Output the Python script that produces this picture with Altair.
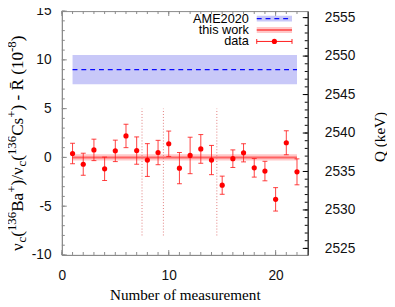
import altair as alt
import pandas as pd

# ---------------- data ----------------
meas = list(range(1, 23))
vals = [0.4, -0.7, 0.77, -1.17, 0.67, 2.2, 0.7, -0.27, 0.5, 1.4, -1.1, 0.2,
        0.87, -0.27, -2.85, -0.13, 0.47, -1.07, -1.4, -4.3, 1.5, -1.48]
errs = [1.05, 1.13, 1.1, 1.2, 1.1, 1.2, 1.4, 1.68, 1.25, 1.3, 1.6, 1.87,
        1.47, 1.5, 0.93, 0.9, 0.93, 0.95, 1.0, 1.2, 1.23, 1.33]

ame_center, ame_lo, ame_hi = 9.0, 7.5, 10.5
tw_center, tw_lo, tw_hi = 0.0, -0.33, 0.33
band_x = [1, 22]
vline_x = [7.5, 9.5, 14.5]
vline_y = [-8, 5]

x_domain = [0, 23]
y_domain = [-10, 15]
q_domain = [2524.15, 2555.85]

x_labels = [0, 10, 20]
y_labels = [-10, -5, 0, 5, 10, 15]
q_labels = [2525, 2530, 2535, 2540, 2545, 2550, 2555]
x_minor = list(range(0, 24))
y_minor = list(range(-10, 16))
q_minor = list(range(2525, 2556))

legend_labels = ["AME2020", "this work", "data"]

# ---------------- layout constants ----------------
W, H = 251, 249
SANS = "Liberation Sans"
SERIF = "Liberation Serif"
GRAY = "#888888"

df = pd.DataFrame({"n": meas, "v": vals,
                   "lo": [v - e for v, e in zip(vals, errs)],
                   "hi": [v + e for v, e in zip(vals, errs)]})
one = pd.DataFrame({"a": [0]})

xscale = alt.Scale(domain=x_domain, nice=False, zero=False)
yscale = alt.Scale(domain=y_domain, nice=False, zero=False)
qscale = alt.Scale(domain=q_domain, nice=False, zero=False)

xaxis = alt.Axis(values=x_labels, ticks=False, tickSize=0, grid=False,
                 domainColor=GRAY, labelFlush=False, labelPadding=14,
                 labelFont=SANS, labelFontSize=14, labelColor="#111",
                 labelExpr="'' + datum.value",
                 title="Number of measurement", titleFont=SERIF,
                 titleFontSize=15.5, titleFontWeight="normal", titleColor="#000",
                 titleX=W / 2, titleY=46, titleAlign="center",
                 titleBaseline="alphabetic")
yaxis = alt.Axis(values=y_labels, ticks=False, tickSize=0, grid=False,
                 domainColor=GRAY, labelPadding=11, labelFont=SANS,
                 labelFontSize=14, labelColor="#111",
                 labelExpr="'' + datum.value", title=None)
qaxis = alt.Axis(orient="right", values=q_labels, ticks=False, tickSize=0,
                 grid=False, domainColor="#000", labelPadding=17,
                 labelAlign="left", labelFont=SANS, labelFontSize=14,
                 labelColor="#111", labelExpr="'' + datum.value",
                 title="Q (keV)", titleFont=SERIF, titleFontSize=15.5,
                 titleFontWeight="normal", titleColor="#000", titleAngle=270,
                 titleX=73, titleY=128, titleAlign="center",
                 titleBaseline="middle")


def X(f):
    return alt.X(f, type="quantitative", scale=xscale, axis=xaxis)


def Y(f):
    return alt.Y(f, type="quantitative", scale=yscale, axis=yaxis)


bands = pd.DataFrame({
    "x0": [band_x[0]] * 2, "x1": [band_x[1]] * 2,
    "lo": [ame_lo, tw_lo], "hi": [ame_hi, tw_hi], "c": [ame_center, tw_center],
    "k": ["ame", "tw"]})

BLUE = "#0a0aff"
ame_band = alt.Chart(bands[bands.k == "ame"]).mark_rect(color="#c8c8f8").encode(
    x=X("x0"), x2="x1", y=Y("lo"), y2="hi")
ame_line = alt.Chart(bands[bands.k == "ame"]).mark_rule(
    color=BLUE, strokeWidth=1.3, strokeDash=[5, 4]).encode(
    x=X("x0"), x2="x1", y=Y("c"))
tw_band = alt.Chart(bands[bands.k == "tw"]).mark_rect(
    color="#ff9a9a", opacity=0.55).encode(x=X("x0"), x2="x1", y=Y("lo"), y2="hi")
tw_line = alt.Chart(bands[bands.k == "tw"]).mark_rule(
    color="#ff2020", strokeWidth=2, opacity=0.6).encode(x=X("x0"), x2="x1", y=Y("c"))

vl = pd.DataFrame({"x": vline_x, "y0": [vline_y[0]] * 3, "y1": [vline_y[1]] * 3})
vlines = alt.Chart(vl).mark_rule(color="#e07a7a", strokeWidth=1,
                                 strokeDash=[1, 2]).encode(
    x=X("x"), y=Y("y0"), y2="y1")

err = alt.Chart(df).mark_rule(color="#ff1a1a", strokeWidth=1, opacity=0.85).encode(
    x=X("n"), y=Y("lo"), y2="hi")
cap_lo = alt.Chart(df).mark_tick(orient="horizontal", color="#ff1a1a", size=5,
                                 thickness=1, opacity=0.85).encode(x=X("n"), y=Y("lo"))
cap_hi = alt.Chart(df).mark_tick(orient="horizontal", color="#ff1a1a", size=5,
                                 thickness=1, opacity=0.85).encode(x=X("n"), y=Y("hi"))
pts = alt.Chart(df).mark_circle(color="#ff0000", size=28, opacity=1).encode(
    x=X("n"), y=Y("v"))


# inward frame ticks
def yticks(values, length):
    return alt.Chart(pd.DataFrame({"t": values})).mark_rule(
        color=GRAY, strokeWidth=1).encode(y=Y("t"), x=alt.value(0), x2=alt.value(length))


def xticks(values, length, top):
    y0 = 0 if top else H
    y1 = length if top else H - length
    return alt.Chart(pd.DataFrame({"t": values})).mark_rule(
        color=GRAY, strokeWidth=1).encode(x=X("t"), y=alt.value(y0), y2=alt.value(y1))


ticks = [yticks(y_minor, 3), yticks(y_labels, 5),
         xticks(x_minor, 3, True), xticks(x_labels, 5, True),
         xticks(x_minor, 3, False), xticks(x_labels, 5, False)]

# legend
leg = []
lx0, lx1, ltext = 199, 235, 191
rows = [7.7, 19.3, 31.0]
for lab, r in zip(legend_labels, rows):
    leg.append(alt.Chart(one).mark_text(
        text=lab, align="right", baseline="middle", font=SANS, fontSize=13,
        color="#000").encode(x=alt.value(ltext), y=alt.value(r)))
leg.append(alt.Chart(one).mark_rect(color="#c8c8f8").encode(
    x=alt.value(lx0), x2=alt.value(lx1), y=alt.value(rows[0] - 3), y2=alt.value(rows[0] + 3)))
leg.append(alt.Chart(one).mark_rule(color=BLUE, strokeWidth=1.3, strokeDash=[5, 4]).encode(
    x=alt.value(lx0), x2=alt.value(lx1), y=alt.value(rows[0])))
leg.append(alt.Chart(one).mark_rect(color="#ff9a9a", opacity=0.55).encode(
    x=alt.value(lx0), x2=alt.value(lx1), y=alt.value(rows[1] - 3), y2=alt.value(rows[1] + 3)))
leg.append(alt.Chart(one).mark_rule(color="#ff2020", strokeWidth=2, opacity=0.6).encode(
    x=alt.value(lx0), x2=alt.value(lx1), y=alt.value(rows[1])))
leg.append(alt.Chart(one).mark_rule(color="#ff1a1a").encode(
    x=alt.value(lx0), x2=alt.value(lx1), y=alt.value(rows[2])))
for cx in (lx0, lx1):
    leg.append(alt.Chart(one).mark_rule(color="#ff1a1a").encode(
        x=alt.value(cx), y=alt.value(rows[2] - 2.5), y2=alt.value(rows[2] + 2.5)))
leg.append(alt.Chart(one).mark_circle(color="#ff0000", size=28, opacity=1).encode(
    x=alt.value((lx0 + lx1) / 2), y=alt.value(rows[2])))

# y title built from pieces (sub/superscripts)
WID = {"ν": 500, "c": 444, "(": 333, ")": 333, "1": 500, "3": 500, "6": 500,
       "B": 667, "a": 444, "+": 564, "/": 278, "C": 667, "s": 389, " ": 250,
       "-": 333, "R": 667, "0": 500, "8": 500, "\u0304": 0}
pieces = [("ν", "n"), ("c", "sub"), ("(", "n"), ("136", "sup"), ("Ba", "n"),
          ("+", "sup"), (")/ν", "n"), ("c", "sub"), ("(", "n"), ("136", "sup"),
          ("Cs", "n"), ("+", "sup"), (") - R\u0304 (10", "n"), ("-8", "sup"),
          (")", "n")]
FS = 17.5
SMALL = 0.75


def pw(t, fs):
    return sum(WID.get(ch, 500) for ch in t) / 1000.0 * fs


sizes = [FS if k == "n" else FS * SMALL for _, k in pieces]
total = sum(pw(t, s) for (t, _), s in zip(pieces, sizes))
xb = -40.0
ycur = 135.0 + total / 2
title_layers = []
for (t, k), s in zip(pieces, sizes):
    xo = xb + (0 if k == "n" else (-0.38 * FS if k == "sup" else 0.2 * FS))
    title_layers.append(alt.Chart(one).mark_text(
        text=t, angle=270, align="left", baseline="alphabetic", font=SERIF,
        fontSize=s, color="#000").encode(x=alt.value(xo), y=alt.value(ycur)))
    ycur -= pw(t, s)

main = alt.layer(ame_band, ame_line, tw_band, tw_line, vlines, err, cap_lo,
                 cap_hi, pts, *ticks, *leg, *title_layers)

# right Q axis
qmaj = alt.Chart(pd.DataFrame({"q": q_labels})).mark_rule(color="#000").encode(
    y=alt.Y("q:Q", scale=qscale, axis=qaxis), x=alt.value(W), x2=alt.value(W - 5))
qmin = alt.Chart(pd.DataFrame({"q": q_minor})).mark_rule(color="#000").encode(
    y=alt.Y("q:Q", scale=qscale, axis=qaxis), x=alt.value(W), x2=alt.value(W - 3))
qlayer = alt.layer(qmaj, qmin)

chart = alt.layer(main, qlayer).resolve_scale(y="independent").properties(
    width=W, height=H,
    padding={"left": 55, "top": 0, "right": 81, "bottom": 50},
    autosize=alt.AutoSizeParams(type="none"),
).configure_view(stroke=GRAY, strokeWidth=1)

chart.save("out.html", embed_options={"renderer": "svg", "actions": False})
